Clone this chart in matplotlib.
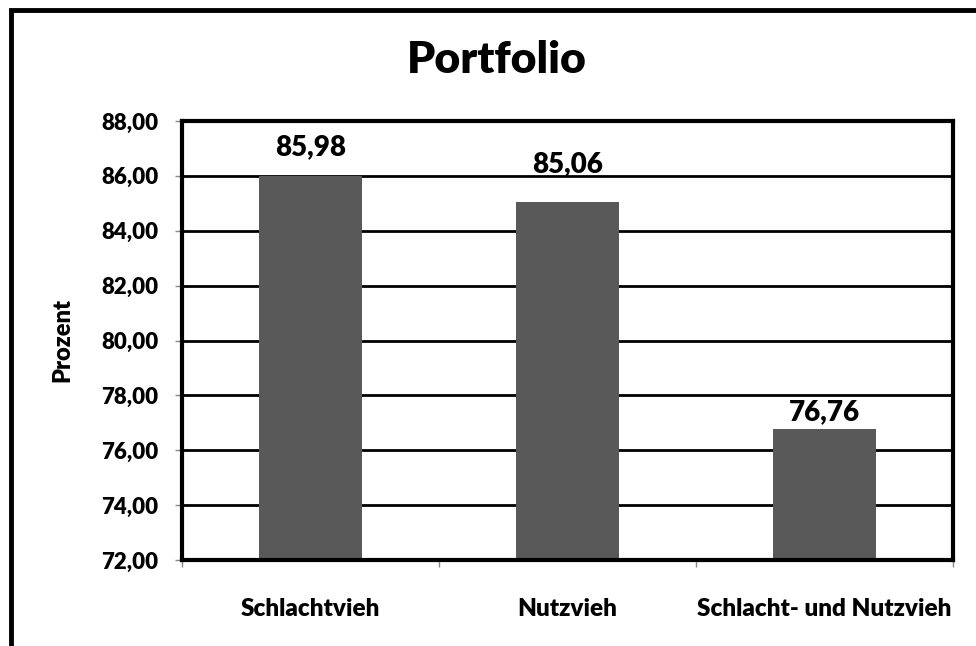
import matplotlib
matplotlib.use('Agg')
import matplotlib.pyplot as plt
from matplotlib.patches import Rectangle

# Daten
kategorien = ['Schlachtvieh', 'Nutzvieh', 'Schlacht- und Nutzvieh']
werte = [85.98, 85.06, 76.76]
y_ticks = [72, 74, 76, 78, 80, 82, 84, 86, 88]

plt.rcParams['font.family'] = ['Lato', 'DejaVu Sans']
plt.rcParams['font.weight'] = 'bold'

fig = plt.figure(figsize=(9.76, 6.46), dpi=100)
ax = fig.add_axes([182 / 976, 1 - 560 / 646, (953 - 182) / 976, (560 - 121) / 646])

# Balken
x = range(len(kategorien))
ax.bar(x, werte, width=0.4, color='#595959', zorder=3)

# Werte über den Balken (Abstand in Punkten wie im Original leicht verschieden)
label_abstand = [15, 21, 7]
for xi, v, d in zip(x, werte, label_abstand):
    ax.annotate(f'{v:.2f}'.replace('.', ','), (xi, v), xytext=(0, d),
                textcoords='offset points', ha='center', va='baseline',
                fontsize=20, fontweight='heavy')

ax.set_ylim(72, 88)
ax.set_xlim(-0.5, 2.5)
ax.set_yticks(y_ticks)
ax.set_yticklabels([f'{t:.2f}'.replace('.', ',') for t in y_ticks],
                   fontsize=16, fontweight='heavy')
ax.set_xticks(list(x))
ax.set_xticklabels(kategorien, fontsize=17.5, fontweight='heavy')
ax.set_xticks([-0.5, 0.5, 1.5, 2.5], minor=True)
ax.tick_params(axis='x', which='major', length=0, pad=27)
ax.tick_params(axis='x', which='minor', length=5, color='#888888', width=1)
ax.tick_params(axis='y', length=5, color='#888888', width=1, pad=12)

# Gitterlinien
ax.yaxis.grid(True, color='black', linewidth=2, zorder=0)
ax.set_axisbelow(True)
for s in ax.spines.values():
    s.set_color('black')
    s.set_linewidth(3)
    s.set_zorder(4)

ax.set_ylabel('Prozent', fontsize=17, fontweight='heavy', labelpad=20)

fig.text(497 / 976, 1 - 60 / 646, 'Portfolio', ha='center', va='center',
         fontsize=32, fontweight='heavy')

# Rahmen um das ganze Diagramm
fig.patches.append(Rectangle((11 / 976, -0.1), 1.2, 1 - 10 / 646 + 0.1,
                             transform=fig.transFigure, fill=False,
                             edgecolor='black', linewidth=3.5))

fig.savefig('out.png', dpi=100)
